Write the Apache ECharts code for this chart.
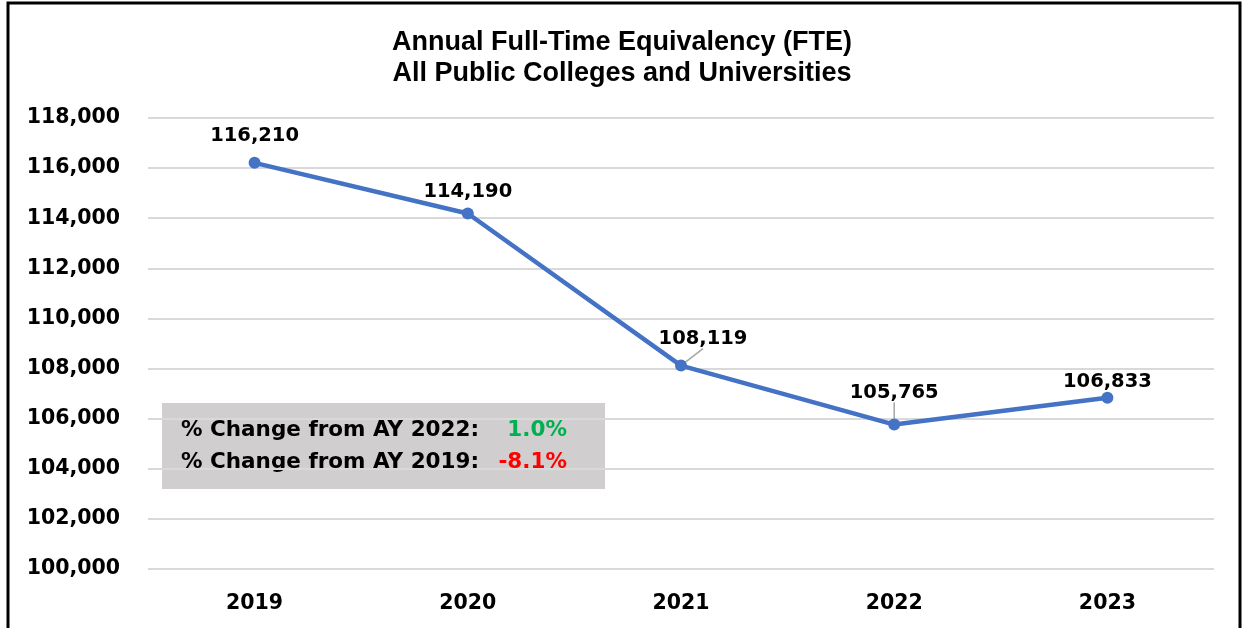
<!DOCTYPE html>
<html>
<head>
<meta charset="utf-8">
<script src="https://cdn.jsdelivr.net/npm/echarts@6/dist/echarts.min.js"></script>
<style>
html,body{margin:0;padding:0;background:#fff;}
#c{width:1244px;height:628px;}
</style>
</head>
<body>
<div id="c"></div>
<script>
const years = ['2019', '2020', '2021', '2022', '2023'];
const fte = [116210, 114190, 108119, 105765, 106833];
const titleLines = ['Annual Full-Time Equivalency (FTE)', 'All Public Colleges and Universities'];
const changeLabels = ['% Change from AY 2022:', '% Change from AY 2019:'];
const changeValues = ['1.0%', '-8.1%'];
// label nudges (dx, dy) per point and which labels get a leader line
const labelNudge = [[0, 0], [0, 5], [22, 0], [0, -5], [0, 11]];
const leaderLine = [false, false, true, true, false];

const fmt = v => v.toLocaleString('en-US');
const boldFont = 'DejaVu Sans';

const seriesData = fte.map((v, i) => ({
  value: v,
  labelLine: {show: leaderLine[i]}
}));

const chart = echarts.init(document.getElementById('c'), null, {renderer: 'canvas'});
chart.setOption({
  animation: false,
  backgroundColor: '#fff',
  title: {
    text: titleLines.join('\n'),
    left: 'center',
    top: 22,
    textStyle: {
      fontFamily: '"Liberation Sans Narrow", "Liberation Sans", sans-serif',
      fontWeight: 'bold',
      fontSize: 27,
      lineHeight: 31,
      color: '#000'
    }
  },
  grid: {left: 148, right: 30, top: 118, bottom: 59},
  xAxis: {
    type: 'category',
    data: years,
    boundaryGap: true,
    axisLine: {show: false},
    axisTick: {show: false},
    axisLabel: {
      margin: 24,
      fontFamily: boldFont, fontWeight: 'bold', fontSize: 20.5, color: '#000'
    }
  },
  yAxis: {
    type: 'value',
    min: 100000, max: 118000, interval: 2000,
    axisLine: {show: false},
    axisTick: {show: false},
    splitLine: {lineStyle: {color: '#D9D9D9', width: 2}},
    axisLabel: {
      margin: 28,
      formatter: v => fmt(v),
      fontFamily: boldFont, fontWeight: 'bold', fontSize: 20.5, color: '#000'
    }
  },
  series: [{
    type: 'line',
    data: seriesData,
    symbol: 'circle',
    symbolSize: 12,
    itemStyle: {color: '#4472C4'},
    lineStyle: {color: '#4472C4', width: 4.5},
    label: {
      show: true,
      position: 'top',
      distance: 11,
      formatter: p => fmt(p.value),
      fontFamily: boldFont, fontWeight: 'bold', fontSize: 19.5, color: '#000'
    },
    labelLine: {show: false, lineStyle: {color: '#A6A6A6', width: 1.5}},
    labelLayout: function (params) {
      const n = labelNudge[params.dataIndex] || [0, 0];
      return {dx: n[0], dy: n[1]};
    }
  }],
  graphic: [
    {
      type: 'polyline',
      shape: {points: [[8, 640], [8, 3], [1240, 3], [1240, 640]]},
      style: {stroke: '#000', lineWidth: 3, fill: null},
      silent: true
    },
    {
      type: 'group',
      left: 162, top: 403,
      children: [
        {type: 'rect', shape: {x: 0, y: 0, width: 443, height: 86}, style: {fill: '#D0CECE'}},
        {type: 'text', x: 19, y: 27, style: {text: changeLabels[0], font: 'bold 21.5px "DejaVu Sans"', fill: '#000', textVerticalAlign: 'middle'}},
        {type: 'text', x: 19, y: 59, style: {text: changeLabels[1], font: 'bold 21.5px "DejaVu Sans"', fill: '#000', textVerticalAlign: 'middle'}},
        {type: 'text', x: 405, y: 27, style: {text: changeValues[0], font: 'bold 21.5px "DejaVu Sans"', fill: '#00B050', textAlign: 'right', textVerticalAlign: 'middle'}},
        {type: 'text', x: 405, y: 59, style: {text: changeValues[1], font: 'bold 21.5px "DejaVu Sans"', fill: '#FF0000', textAlign: 'right', textVerticalAlign: 'middle'}}
      ]
    }
  ]
});
</script>
</body>
</html>
